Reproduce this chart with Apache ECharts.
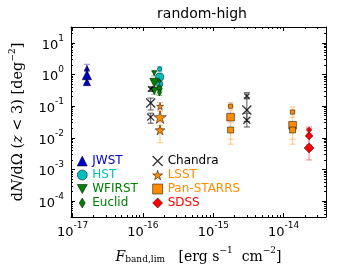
<!DOCTYPE html>
<html><head><meta charset="utf-8">
<script src="https://cdn.jsdelivr.net/npm/echarts@6/dist/echarts.min.js"></script>
<style>html,body{margin:0;padding:0;background:#fff}#c{width:341px;height:273px}</style>
</head><body><div id="c"></div><script>
// ---------- axis ranges & ticks (data units) ----------
const xRange = [9.5e-18, 4e-14];
const yRange = [Math.pow(10, -4.5), Math.pow(10, 1.5)];
const xMajor = [1e-17, 1e-16, 1e-15, 1e-14];
const yMajor = [1e-4, 1e-3, 1e-2, 1e-1, 1e0, 1e1];
const xTickExp = ['-17', '-16', '-15', '-14'];
const yTickExp = ['-4', '-3', '-2', '-1', '0', '1'];

// ---------- data (three model points per survey) ----------
const surveys = ['JWST', 'HST', 'WFIRST', 'Euclid', 'Chandra', 'LSST', 'Pan-STARRS', 'SDSS'];

const jwstX = [1.6e-17, 1.6e-17, 1.6e-17];
const jwstY = [1.6, 0.96, 0.58];
const jwstLo = [1.25, 0.7, 0.5];
const jwstHi = [2.1, 1.3, 0.75];

const hstX = [1.73e-16, 1.73e-16, 1.73e-16];
const hstY = [1.49, 0.83, 0.50];
const hstLo = [1.25, 0.65, 0.40];
const hstHi = [1.8, 1.1, 0.62];

const wfirstX = [1.45e-16, 1.45e-16, 1.45e-16];
const wfirstY = [1.1, 0.55, 0.30];
const wfirstLo = [0.9, 0.42, 0.24];
const wfirstHi = [1.3, 0.7, 0.38];

const euclidX = [1.72e-16, 1.72e-16, 1.72e-16];
const euclidY = [0.62, 0.36, 0.27];
const euclidLo = [0.5, 0.3, 0.22];
const euclidHi = [0.75, 0.45, 0.33];

const chandraX = [1.29e-16, 1.29e-16, 1.29e-16, 3.0e-15, 3.0e-15, 3.0e-15];
const chandraY = [0.35, 0.126, 0.045, 0.21, 0.076, 0.036];
const chandraLo = [0.29, 0.076, 0.029, 0.17, 0.033, 0.022];
const chandraHi = [0.41, 0.18, 0.06, 0.266, 0.18, 0.06];

const lsstX = [1.75e-16, 1.75e-16, 1.75e-16];
const lsstY = [0.10, 0.045, 0.0177];
const lsstLo = [0.075, 0.02, 0.007];
const lsstHi = [0.13, 0.07, 0.025];

const panX = [1.76e-15, 1.76e-15, 1.76e-15, 1.34e-14, 1.34e-14, 1.34e-14];
const panY = [0.10, 0.045, 0.0177, 0.065, 0.025, 0.0177];
const panLo = [0.076, 0.009, 0.0063, 0.045, 0.009, 0.0063];
const panHi = [0.13, 0.10, 0.03, 0.094, 0.075, 0.03];

const sdssX = [2.3e-14, 2.3e-14, 2.3e-14];
const sdssY = [0.0177, 0.0048, 0.0115];
const sdssLo = [0.014, 0.002, 0.006];
const sdssHi = [0.022, 0.011, 0.02];

// ---------- styles ----------
const MODEL_SIZE = [5, 9, 7];
const L = Math.log10;
const STAR = 'path://M50,0L61,35L98,35L68,57L79,91L50,70L21,91L32,57L2,35L39,35Z';
const XMARK = 'path://M0,0L10,10M10,0L0,10';
const THIN_D = 'path://M3,0L6,5L3,10L0,5Z';
const TRI_DOWN = 'path://M0,0L10,0L5,9Z';

const defs = [
  {name: 'JWST', xs: jwstX, ys: jwstY, lo: jwstLo, hi: jwstHi, sym: 'triangle', rot: 0, icon: 'triangle', color: '#0000cc', err: '#8c8ce8', text: '#0000cc', scale: 1.05},
  {name: 'HST', xs: hstX, ys: hstY, lo: hstLo, hi: hstHi, sym: 'circle', rot: 0, icon: 'circle', color: '#00bfbf', err: '#7fdfdf', text: '#00bfbf', scale: 0.9},
  {name: 'WFIRST', xs: wfirstX, ys: wfirstY, lo: wfirstLo, hi: wfirstHi, sym: 'triangle', rot: 180, icon: TRI_DOWN, color: '#008000', err: '#7fbf7f', text: '#008000', scale: 1},
  {name: 'Euclid', xs: euclidX, ys: euclidY, lo: euclidLo, hi: euclidHi, sym: THIN_D, rot: 0, icon: THIN_D, color: '#008000', err: '#7fbf7f', text: '#008000', scale: 1, keep: true},
  {name: 'Chandra', xs: chandraX, ys: chandraY, lo: chandraLo, hi: chandraHi, sym: XMARK, rot: 0, icon: XMARK, color: '#000000', err: '#555555', text: '#000000', scale: 1, xmark: true},
  {name: 'LSST', xs: lsstX, ys: lsstY, lo: lsstLo, hi: lsstHi, sym: STAR, rot: 0, icon: STAR, color: '#ff8c00', err: '#ffc57f', text: '#ff8c00', scale: 1.4},
  {name: 'Pan-STARRS', xs: panX, ys: panY, lo: panLo, hi: panHi, sym: 'rect', rot: 0, icon: 'rect', color: '#ff8c00', err: '#ffc57f', text: '#ff8c00', scale: 0.85},
  {name: 'SDSS', xs: sdssX, ys: sdssY, lo: sdssLo, hi: sdssHi, sym: 'diamond', rot: 0, icon: 'diamond', color: '#ff0000', err: '#ff7f7f', text: '#ff0000', scale: 1.1}
];

const SANS = 'DejaVu Sans';
const SERIF = 'DejaVu Serif';

function minorVals(r) {
  const out = [];
  const a = L(r[0]), b = L(r[1]);
  for (let n = Math.floor(a) - 1; n <= Math.ceil(b); n++) {
    for (let k = 2; k <= 9; k++) {
      const v = L(k) + n;
      if (v > a && v < b) out.push(v);
    }
  }
  return out;
}

const tickRich = {
  b: {fontSize: 13, fontFamily: SANS, color: '#000', verticalAlign: 'bottom', lineHeight: 18},
  s: {fontSize: 9, fontFamily: SANS, color: '#000', verticalAlign: 'top', lineHeight: 18}
};
function fmtX(v) { const i = xMajor.findIndex(m => Math.abs(L(m) - v) < 1e-6); return '{b|10}{s|' + xTickExp[i] + '}'; }
function fmtY(v) { const i = yMajor.findIndex(m => Math.abs(L(m) - v) < 1e-6); return '{b|10}{s|' + yTickExp[i] + '}'; }

function mkAxis(kind, pos, major, withLabel, withLine) {
  const r = kind === 'x' ? xRange : yRange;
  return {
    type: 'value', position: pos, min: L(r[0]), max: L(r[1]),
    splitLine: {show: false},
    axisLine: {show: withLine, onZero: false, lineStyle: {color: '#000', width: 1}},
    axisTick: {show: true, inside: true, length: major ? 4 : 2, lineStyle: {color: '#000', width: 1},
      customValues: major ? (kind === 'x' ? xMajor : yMajor).map(L) : minorVals(r)},
    axisLabel: withLabel ? {show: true, customValues: (kind === 'x' ? xMajor : yMajor).map(L),
      formatter: kind === 'x' ? fmtX : fmtY, rich: tickRich, margin: kind === 'x' ? 4 : 7} : {show: false}
  };
}

const xAxes = [mkAxis('x', 'bottom', true, true, true), mkAxis('x', 'bottom', false, false, false),
  mkAxis('x', 'top', true, false, true), mkAxis('x', 'top', false, false, false)];
const yAxes = [mkAxis('y', 'left', true, true, true), mkAxis('y', 'left', false, false, false),
  mkAxis('y', 'right', true, false, true), mkAxis('y', 'right', false, false, false)];

xAxes[0].name = '{i|F}{sub|band,lim}{r|   [erg s}{s|−1}{r|  cm}{s|−2}{r|]}';
xAxes[0].nameLocation = 'middle';
xAxes[0].nameGap = 29;
xAxes[0].nameTextStyle = {rich: {
  i: {fontFamily: SERIF, fontStyle: 'italic', fontSize: 14, color: '#000', verticalAlign: 'bottom', lineHeight: 18},
  sub: {fontFamily: SERIF, fontSize: 9, color: '#000', verticalAlign: 'bottom', lineHeight: 12},
  r: {fontFamily: SERIF, fontSize: 14, color: '#000', verticalAlign: 'bottom', lineHeight: 18},
  s: {fontFamily: SERIF, fontSize: 9, color: '#000', verticalAlign: 'top', lineHeight: 18}
}};

yAxes[0].name = '{r|d}{i|N}{r|/dΩ (}{i|z}{r| < 3) [deg}{s|−2}{r|]}';
yAxes[0].nameLocation = 'middle';
yAxes[0].nameGap = 45;
yAxes[0].nameRotate = 90;
yAxes[0].nameTextStyle = {rich: {
  i: {fontFamily: SERIF, fontStyle: 'italic', fontSize: 14.5, color: '#000', verticalAlign: 'bottom', lineHeight: 18},
  r: {fontFamily: SERIF, fontSize: 14.5, color: '#000', verticalAlign: 'bottom', lineHeight: 18},
  s: {fontFamily: SERIF, fontSize: 9, color: '#000', verticalAlign: 'top', lineHeight: 18}
}};

const series = [];
defs.forEach(d => {
  series.push({
    type: 'custom', name: d.name + ' err', xAxisIndex: 0, yAxisIndex: 0, clip: true,
    data: d.xs.map((x, i) => [L(x), L(d.lo[i]), L(d.hi[i])]),
    encode: {x: 0, y: [1, 2]},
    renderItem: function (params, api) {
      const x = api.value(0);
      const p1 = api.coord([x, api.value(2)]);
      const p2 = api.coord([x, api.value(1)]);
      const c = 3, st = {stroke: d.err, lineWidth: 1};
      return {type: 'group', children: [
        {type: 'line', shape: {x1: p1[0], y1: p1[1], x2: p2[0], y2: p2[1]}, style: st},
        {type: 'line', shape: {x1: p1[0] - c, y1: p1[1], x2: p1[0] + c, y2: p1[1]}, style: st},
        {type: 'line', shape: {x1: p2[0] - c, y1: p2[1], x2: p2[0] + c, y2: p2[1]}, style: st}
      ]};
    }
  });
  series.push({
    type: 'scatter', name: d.name, xAxisIndex: 0, yAxisIndex: 0,
    symbol: d.sym, symbolRotate: d.rot, symbolKeepAspect: !!d.keep,
    data: d.xs.map((x, i) => ({value: [L(x), L(d.ys[i])], symbolSize: MODEL_SIZE[i % 3] * d.scale})),
    itemStyle: d.xmark ? {color: '#000', borderColor: '#000', borderWidth: 1.3}
                       : {color: d.color, borderColor: '#000', borderWidth: 0.5, opacity: 1},
    emphasis: {disabled: true}
  });
});

function legendData(names) {
  return names.map(n => {
    const d = defs.find(q => q.name === n);
    return {
      name: n, icon: d.icon, textStyle: {color: d.text},
      itemStyle: d.xmark ? {color: '#000', borderColor: '#000', borderWidth: 1.3}
                         : {color: d.color, borderColor: '#000', borderWidth: 0.5}
    };
  });
}

const option = {
  animation: false,
  backgroundColor: '#fff',
  title: {text: 'random-high', left: 197, top: 2, textAlign: 'center',
    textStyle: {fontFamily: SANS, fontSize: 14, fontWeight: 'normal', color: '#000'}},
  grid: {left: 68, right: 15, top: 27, bottom: 56, containLabel: false},
  xAxis: xAxes,
  yAxis: yAxes,
  legend: [
    {data: legendData(['JWST', 'HST', 'WFIRST', 'Euclid']), orient: 'vertical', left: 77, top: 155,
     itemWidth: 10, itemHeight: 10, itemGap: 2, selectedMode: false, padding: 0,
     textStyle: {fontFamily: SANS, fontSize: 12}},
    {data: legendData(['Chandra', 'LSST', 'Pan-STARRS', 'SDSS']), orient: 'vertical', left: 152, top: 155,
     itemWidth: 10, itemHeight: 10, itemGap: 2, selectedMode: false, padding: 0,
     textStyle: {fontFamily: SANS, fontSize: 12}}
  ],
  series: series
};

const chart = echarts.init(document.getElementById('c'), null, {renderer: 'canvas'});
chart.setOption(option);
</script></body></html>
